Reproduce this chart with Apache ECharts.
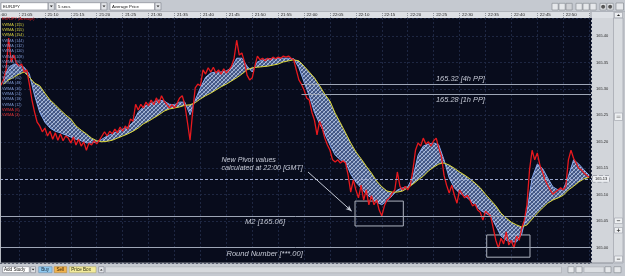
<!DOCTYPE html>
<html><head><meta charset="utf-8">
<script src="https://cdn.jsdelivr.net/npm/echarts@6/dist/echarts.min.js"></script>
<style>html,body{margin:0;padding:0;background:#c5c9d0;}#c{width:625px;height:276px;}</style>
</head><body><div id="c"></div><script>
// time in minutes after 21:00 (5-sec "Average Price" series, read every 30 s)
const times = [1.5,2,2.5,3,3.5,4,4.5,5,5.5,6,
6.5,7,7.5,8,8.5,9,9.5,10,10.5,11,
11.5,12,12.5,13,13.5,14,14.5,15,15.5,16,
16.5,17,17.5,18,18.5,19,19.5,20,20.5,21,
21.5,22,22.5,23,23.5,24,24.5,25,25.5,26,
26.5,27,27.5,28,28.5,29,29.5,30,30.5,31,
31.5,32,32.5,33,33.5,34,34.5,35,35.5,36,
36.5,37,37.5,38,38.5,39,39.5,40,40.5,41,
41.5,42,42.5,43,43.5,44,44.5,45,45.5,46,
46.5,47,47.5,48,48.5,49,49.5,50,50.5,51,
51.5,52,52.5,53,53.5,54,54.5,55,55.5,56,
56.5,57,57.5,58,58.5,59,59.5,60,60.5,61,
61.5,62,62.5,63,63.5,64,64.5,65,65.5,66,
66.5,67,67.5,68,68.5,69,69.5,70,70.5,71,
71.5,72,72.5,73,73.5,74,74.5,75,75.5,76,
76.5,77,77.5,78,78.5,79,79.5,80,80.5,81,
81.5,82,82.5,83,83.5,84,84.5,85,85.5,86,
86.5,87,87.5,88,88.5,89,89.5,90,90.5,91,
91.5,92,92.5,93,93.5,94,94.5,95,95.5,96,
96.5,97,97.5,98,98.5,99,99.5,100,100.5,101,
101.5,102,102.5,103,103.5,104,104.5,105,105.5,106,
106.5,107,107.5,108,108.5,109,109.5,110,110.5,111,
111.5,112,112.5,113,113.5,114,114.5,115];
const price = [165.307,165.317,165.336,165.396,165.351,165.364,165.349,165.343,165.347,165.332,
165.336,165.309,165.279,165.256,165.237,165.230,165.219,165.226,165.211,165.220,
165.205,165.217,165.203,165.215,165.202,165.211,165.207,165.198,165.209,165.194,
165.205,165.192,165.200,165.184,165.198,165.194,165.202,165.196,165.203,165.211,
165.219,165.211,165.220,165.215,165.224,165.217,165.228,165.220,165.230,165.224,
165.243,165.239,165.271,165.260,165.271,165.264,165.275,165.268,165.279,165.270,
165.283,165.273,165.287,165.277,165.271,165.264,165.270,165.264,165.273,165.283,
165.287,165.270,165.237,165.203,165.256,165.302,165.309,165.306,165.336,165.328,
165.340,165.332,165.341,165.330,165.336,165.328,165.338,165.330,165.336,165.343,
165.358,165.392,165.364,165.368,165.351,165.326,165.317,165.321,165.343,165.362,
165.355,165.358,165.353,165.358,165.355,165.360,165.357,165.360,165.358,165.362,
165.360,165.362,165.358,165.355,165.336,165.317,165.309,165.298,165.283,165.279,
165.256,165.241,165.213,165.239,165.226,165.207,165.194,165.184,165.166,165.162,
165.166,165.160,165.164,165.160,165.137,165.105,165.128,165.109,165.094,165.118,
165.090,165.109,165.081,165.098,165.081,165.090,165.071,165.060,165.079,165.090,
165.094,165.103,165.109,165.143,165.116,165.109,165.116,165.109,165.118,165.147,
165.184,165.198,165.192,165.207,165.196,165.200,165.192,165.202,165.207,165.188,
165.173,165.137,165.118,165.103,165.118,165.099,165.084,165.109,165.101,165.094,
165.099,165.090,165.079,165.082,165.071,165.067,165.052,165.069,165.064,165.060,
165.037,165.014,164.999,165.018,165.007,165.030,165.005,165.014,164.999,165.022,
165.014,165.037,165.052,165.081,165.147,165.184,165.166,165.179,165.156,165.143,
165.128,165.118,165.109,165.101,165.105,165.109,165.113,165.109,165.116,165.166,
165.184,165.169,165.160,165.150,165.147,165.141,165.137,165.133];
// moving averages, read every minute
const maTimes = [2,3,4,5,6,7,8,9,10,11,12,13,14,15,16,17,18,19,20,21,22,23,24,25,26,27,28,29,30,31,
32,33,34,35,36,37,38,39,40,41,42,43,44,45,46,47,48,49,50,51,52,53,54,55,56,57,58,59,60,61,
62,63,64,65,66,67,68,69,70,71,72,73,74,75,76,77,78,79,80,81,82,83,84,85,86,87,88,89,90,91,
92,93,94,95,96,97,98,99,100,101,102,103,104,105,106,107,108,109,110,111,112,113,114,115];
const vwmaSlow = [165.309,165.317,165.322,165.328,165.332,165.322,165.311,165.306,165.292,165.279,
165.270,165.260,165.251,165.243,165.230,165.222,165.215,165.207,165.202,165.200,
165.201,165.203,165.207,165.211,165.215,165.220,165.226,165.234,165.239,165.245,
165.251,165.258,165.262,165.264,165.266,165.269,165.270,165.274,165.281,165.287,
165.292,165.298,165.304,165.309,165.315,165.321,165.328,165.336,165.340,165.341,
165.342,165.343,165.345,165.347,165.351,165.353,165.355,165.353,165.343,165.332,
165.321,165.306,165.290,165.277,165.254,165.236,165.217,165.198,165.181,165.168,
165.154,165.141,165.126,165.115,165.107,165.105,165.105,165.107,165.113,165.120,
165.128,165.135,165.145,165.152,165.158,165.160,165.156,165.150,165.143,165.137,
165.130,165.122,165.113,165.101,165.090,165.079,165.065,165.056,165.048,165.043,
165.039,165.043,165.054,165.065,165.075,165.084,165.090,165.094,165.099,165.109,
165.116,165.124,165.130,165.133];
const vwmaFast = [165.321,165.340,165.347,165.345,165.341,165.328,165.288,165.256,165.237,165.226,
165.220,165.217,165.213,165.209,165.205,165.202,165.198,165.198,165.200,165.205,
165.211,165.215,165.220,165.224,165.228,165.237,165.256,165.266,165.271,165.275,
165.279,165.277,165.271,165.270,165.275,165.275,165.251,165.279,165.302,165.322,
165.330,165.332,165.332,165.334,165.340,165.358,165.358,165.343,165.332,165.351,
165.355,165.357,165.357,165.358,165.358,165.358,165.357,165.340,165.313,165.287,
165.256,165.234,165.215,165.194,165.175,165.166,165.162,165.139,165.124,165.113,
165.101,165.094,165.086,165.081,165.088,165.098,165.109,165.113,165.115,165.133,
165.175,165.192,165.196,165.198,165.194,165.166,165.132,165.113,165.103,165.098,
165.090,165.081,165.071,165.065,165.060,165.041,165.022,165.014,165.011,165.011,
165.026,165.067,165.132,165.158,165.150,165.132,165.115,165.109,165.109,165.135,
165.166,165.158,165.147,165.137];
const legendNames = ['EURJPY (Average)','VWMA (155)','VWMA (155)','VWMA (154)','VWMA (144)','VWMA (132)','VWMA (120)','VWMA (108)','VWMA (96)','VWMA (84)','VWMA (72)','VWMA (60)','VWMA (48)','VWMA (36)','VWMA (24)','VWMA (18)','VWMA (12)','VWMA (6)','VWMA (3)'];
const pivot4h = 165.309, pivot1h = 165.290, m2Level = 165.058, roundLevel = 165.000, lastPrice = 165.127;
const pivotStart = 59.5;
const arrowFrom = [60.76, 165.143], arrowTo = [69.19, 165.069];
const box1 = [[69.83, 165.088], [79.15, 165.041]];
const box2 = [[95.24, 165.024], [103.59, 164.982]];
const notes = ['New Pivot values', 'calculated at 22:00 [GMT]', 'M2 [165.06]', 'Round Number [***.00]', '165.32 [4h PP]', '165.28 [1h PP]'];
const xMin = 1.334, xMax = 115.36;

function fmtTime(v){ const m = Math.round(v); const h = 21 + Math.floor(m/60); const mm = m % 60; return h + ':' + (mm<10?'0':'') + mm; }

function meshPattern(){
  const c = document.createElement('canvas'); c.width = 4; c.height = 4;
  const g = c.getContext('2d');
  g.fillStyle = 'rgba(105,135,198,0.6)'; g.fillRect(0,0,4,4);
  g.lineWidth = 0.8;
  g.strokeStyle = 'rgba(230,238,255,0.85)';
  g.beginPath(); g.moveTo(0,4); g.lineTo(4,0); g.stroke();
  g.strokeStyle = 'rgba(160,185,235,0.7)';
  g.beginPath(); g.moveTo(0,0); g.lineTo(4,4); g.stroke();
  return c;
}
const mesh = meshPattern();

const G = [];
const FF = '"Liberation Sans", Arial, sans-serif';
function rect(x,y,w,h,fill,stroke,z){ G.push({type:'rect', z: z==null?-10:z, silent:true, shape:{x:x,y:y,width:w,height:h}, style:{fill:fill, stroke: stroke||null, lineWidth: stroke?0.6:0}}); }
function text(x,y,t,size,color,extra){ G.push({type:'text', z:50, silent:true, x:x, y:y, style:Object.assign({text:t, fill:color||'#000', font:size+'px '+FF, verticalAlign:'middle', align:'left'}, extra||{})}); }
function tri(cx,cy,s,down,fill,z){ const p = down ? [[cx-s,cy-s*0.6],[cx+s,cy-s*0.6],[cx,cy+s*0.6]] : [[cx-s,cy+s*0.6],[cx+s,cy+s*0.6],[cx,cy-s*0.6]]; G.push({type:'polygon', z: z==null?-9:z, silent:true, shape:{points:p}, style:{fill:fill||'#222'}}); }

// header row & frames
rect(0,11.5,625,0.7,'#9a9ea6');
rect(0,12,613,6,'#dde0e5');
rect(591,18,22,245,'#d2d5da');
rect(590.6,12,0.8,251,'#8c9098');
rect(613,12,12,251,'#c3c6cc');
rect(613.5,18,9.5,245,'#d9dce0','#9ca0a8');
rect(614.5,12.4,8,5.4,'#eceef1','#9ca0a8'); tri(618.5,15.1,1.6,false,'#222');
rect(614.5,113,8,7.5,'#eef0f2','#9ca0a8'); rect(616.5,115.8,4,0.5,'#777',null,-8); rect(616.5,117.3,4,0.5,'#777',null,-8);
rect(614.5,218,8,5.5,'#eef0f2','#9ca0a8'); rect(616.8,220.5,3.4,0.6,'#222',null,-8);
rect(614.5,227.5,8,5.5,'#eef0f2','#9ca0a8'); rect(616.8,230,3.4,0.6,'#222',null,-8); rect(618.2,228.6,0.6,3.4,'#222',null,-8);
rect(614.5,256,8,6,'#eef0f2','#9ca0a8'); rect(616.8,258.8,3.4,0.6,'#222',null,-8);
rect(0,18,1,245,'#b4b8c0',null,60);
rect(0,262.6,613,0.8,'#8c9098',null,60);
// partially cut first header label (21:00)
text(-4.4,14.6,'21:00',4.4,'#222');

// top toolbar
const dd = [[1,47,'EURJPY'],[56,44.7,'5 secs'],[110,44.7,'Average Price']];
dd.forEach(d => { rect(d[0],2.7,d[1],7.3,'#ffffff','#7a7e86'); text(d[0]+2,6.4,d[2],4.3,'#111'); rect(d[0]+d[1]+0.3,2.7,6,7.3,'#e2e4e8','#7a7e86'); tri(d[0]+d[1]+3.3,6.4,1.5,true,'#222'); });
[552,559,566,576,583,590,600,607].forEach((x,i) => { rect(x,3.3,6.2,6.7, i===2?'#d0d2d6':'#e6e8eb','#80848c'); });
rect(616,3,7.5,7,'#e6e8eb','#80848c');
G.push({type:'circle', z:-8, silent:true, shape:{cx:603.1,cy:6.65,r:2}, style:{fill:'#555'}});
G.push({type:'circle', z:-8, silent:true, shape:{cx:610.1,cy:6.65,r:2}, style:{fill:'#555'}});

// bottom toolbar
rect(2.7,266.7,26.6,6,'#ffffff','#7a7e86'); text(4,269.7,'Add Study',4.6,'#111');
rect(30.7,266.7,4.8,6,'#e2e4e8','#7a7e86'); tri(33.1,269.7,1.4,true,'#222');
rect(38.7,266.7,13.3,6,'#8ec8ef','#6d8fb0'); text(41.2,269.7,'Buy',4.6,'#1a2a3a');
rect(54.3,266.7,12.4,6,'#f1b24c','#b0863e'); text(56.4,269.7,'Sell',4.6,'#3a2405');
rect(69.3,266.7,26.7,6,'#f3eb9b','#b0aa70'); text(71.3,269.7,'Price Box',4.6,'#2a2a10');
rect(98.7,266.7,5.3,6,'#e2e4e8','#7a7e86'); tri(101.3,269.7,1.3,false,'#222');
rect(105.5,266.8,456,6,'#d6d9dd','#a6aab0');
rect(568,266.7,6,6,'#e6e8eb','#80848c'); rect(576,266.7,6,6,'#e6e8eb','#80848c'); rect(584,266.9,20,5.6,'#dcdfe3','#a6aab0');
rect(605,266.7,6,6,'#e6e8eb','#80848c'); rect(614,266.7,7,6,'#e6e8eb','#80848c');

// legend
legendNames.forEach((n,i) => {
  const col = i===0 ? '#e3262a' : (i<=3 ? '#d6cf3c' : (i>=17 ? '#de2f2f' : '#7b94cc'));
  text(2, 19.4 + i*5.33, n, 3.8, col);
});

// annotations
const nf = s => 'italic ' + s + 'px ' + FF;
function note(x,y,t,s){ G.push({type:'text', z:50, silent:true, x:x, y:y, style:{text:t, fill:'#c6cad6', font:nf(s), verticalAlign:'middle', align:'left'}}); }
note(221.5,160,notes[0],7.1);
note(221.5,167.8,notes[1],7.1);
note(245,222,notes[2],7.6);
note(226.5,254.2,notes[3],7.5);
note(436,79,notes[4],7.4);
note(436,100.3,notes[5],7.4);

const lineGray = '#9ea6b6';
const option = {
  animation: false,
  backgroundColor: 'transparent',
  grid: {left: 0, right: 34, top: 18, bottom: 13, show: true, backgroundColor: '#080c1c', borderWidth: 0},
  xAxis: {
    type: 'value', position: 'top', min: xMin, max: xMax, splitNumber: 23, minInterval: 5, maxInterval: 5,
    axisLine: {show: false},
    axisTick: {show: true, length: 6, lineStyle: {color: '#8e939b', type: 'dotted', width: 1}},
    axisLabel: {margin: 1.2, fontSize: 4.4, color: '#222', align: 'left', padding: [0,0,0,2.5], fontFamily: 'Liberation Sans', showMinLabel: false, showMaxLabel: false, formatter: v => (v > 112 || v < 4) ? '' : fmtTime(v)},
    splitLine: {show: true, lineStyle: {color: '#1e2742', type: [2,2], width: 1}}
  },
  yAxis: {
    type: 'value', position: 'right', min: 164.971, max: 165.434, splitNumber: 9,
    axisLine: {show: false}, axisTick: {show: false},
    axisLabel: {margin: 5, fontSize: 4, color: '#2a2a2a', fontFamily: 'Liberation Sans', showMinLabel: false, showMaxLabel: false, formatter: v => v.toFixed(2)},
    splitLine: {show: true, lineStyle: {color: '#1e2742', type: [2,2], width: 1}}
  },
  graphic: G,
  series: [
    {
      type: 'custom', name: 'ribbon', z: 1, clip: true,
      data: [[maTimes[0], vwmaFast[0]]],
      renderItem: function(params, api){
        if (params.dataIndex !== 0) return;
        const pts = [];
        for (let i = 0; i < maTimes.length; i++) pts.push(api.coord([maTimes[i], vwmaFast[i]]));
        for (let i = maTimes.length - 1; i >= 0; i--) pts.push(api.coord([maTimes[i], vwmaSlow[i]]));
        return {type: 'polygon', shape: {points: pts}, style: {fill: {image: mesh, repeat: 'repeat'}, stroke: null}};
      }
    },
    {type: 'line', name: 'VWMA (12)', z: 2, data: maTimes.map((t,i)=>[t, vwmaFast[i]]), showSymbol: false, symbol: 'none', lineStyle: {color: '#86a8ee', width: 1}},
    {type: 'line', name: 'VWMA (155)', z: 3, data: maTimes.map((t,i)=>[t, vwmaSlow[i]]), showSymbol: false, symbol: 'none', lineStyle: {color: '#dcd735', width: 1}},
    {
      type: 'line', name: 'EURJPY (Average)', z: 4, data: times.map((t,i)=>[t, price[i]]), showSymbol: false, symbol: 'none',
      lineStyle: {color: '#e8191e', width: 1.3},
      markLine: {
        silent: true, symbol: ['none','none'], label: {show: false}, animation: false,
        data: [
          {yAxis: m2Level, lineStyle: {color: lineGray, width: 1, type: 'solid'}},
          {yAxis: roundLevel, lineStyle: {color: lineGray, width: 1, type: 'solid'}},
          [{coord: [pivotStart, pivot4h], lineStyle: {color: lineGray, width: 1, type: 'solid'}}, {coord: [xMax, pivot4h]}],
          [{coord: [pivotStart, pivot1h], lineStyle: {color: lineGray, width: 1, type: 'solid'}}, {coord: [xMax, pivot1h]}],
          {yAxis: lastPrice, lineStyle: {color: '#9aa6cc', width: 1, type: [3,2]},
           label: {show: true, position: 'end', distance: 2, formatter: '165.13', fontSize: 4, color: '#111', fontFamily: 'Liberation Sans', backgroundColor: '#eceef2', padding: [1,2,1,2], borderColor: '#7a7e88', borderWidth: 0.5, borderType: 'dashed'}},
          [{coord: arrowFrom, symbol: 'none', lineStyle: {color: '#c3c8d4', width: 1, type: 'solid'}}, {coord: arrowTo, symbol: 'arrow', symbolSize: [4,6]}]
        ]
      },
      markArea: {
        silent: true,
        itemStyle: {color: 'rgba(0,0,0,0)', borderColor: '#aeb4c0', borderWidth: 1},
        data: [[{coord: box1[0]}, {coord: box1[1]}], [{coord: box2[0]}, {coord: box2[1]}]]
      }
    }
  ]
};
const chart = echarts.init(document.getElementById('c'), null, {renderer: 'canvas'});
chart.setOption(option);
</script></body></html>
